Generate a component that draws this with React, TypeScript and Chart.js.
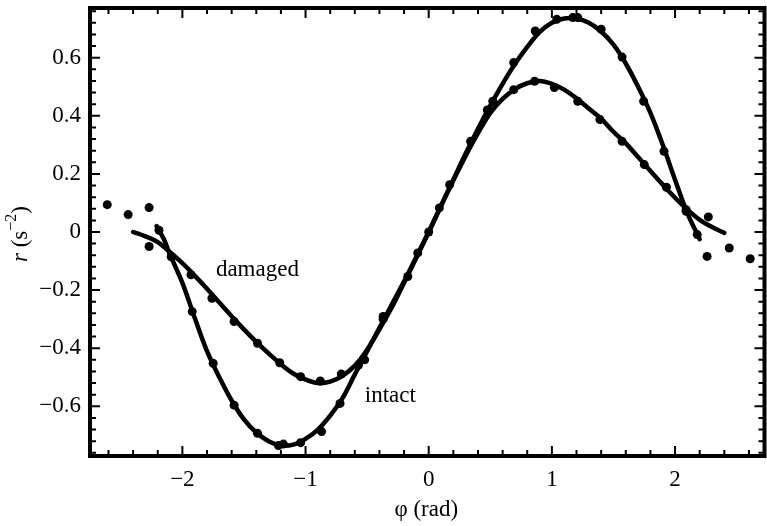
import React, { useEffect, useRef } from "react";
import { Chart, registerables } from "chart.js";
Chart.register(...registerables);

// ---- axis ranges & ticks ----
const X_MIN = -2.75;
const X_MAX = 2.71;
const Y_MIN = -0.771;
const Y_MAX = 0.771;
const xTickValues = [-2, -1, 0, 1, 2];
const yTickValues = [-0.6, -0.4, -0.2, 0, 0.2, 0.4, 0.6];
const X_MINOR_STEP = 0.2;
const Y_MINOR_STEP = 0.04;

// ---- fitted curves ----
const intactCurveX = [-2.21, -2.15, -2.1, -2.0, -1.9, -1.8, -1.7, -1.6, -1.5, -1.4, -1.3, -1.2, -1.1, -1.0, -0.9, -0.8, -0.7, -0.6, -0.5, -0.4, -0.3, -0.2, -0.1, 0, 0.1, 0.2, 0.3, 0.4, 0.5, 0.6, 0.7, 0.8, 0.9, 1.0, 1.1, 1.2, 1.3, 1.4, 1.5, 1.6, 1.7, 1.8, 1.9, 2.0, 2.1, 2.2];
const intactCurveY = [0.02, -0.025, -0.078, -0.175, -0.295, -0.41, -0.5, -0.58, -0.645, -0.69, -0.72, -0.735, -0.732, -0.712, -0.68, -0.632, -0.572, -0.49, -0.41, -0.33, -0.25, -0.17, -0.085, 0.0, 0.09, 0.18, 0.27, 0.355, 0.435, 0.51, 0.578, 0.637, 0.688, 0.72, 0.735, 0.735, 0.72, 0.69, 0.645, 0.58, 0.5, 0.41, 0.3, 0.18, 0.065, -0.025];

const damagedCurveX = [-2.4, -2.3, -2.2, -2.1, -2.0, -1.9, -1.8, -1.7, -1.6, -1.5, -1.4, -1.3, -1.2, -1.1, -1.0, -0.9, -0.8, -0.7, -0.6, -0.5, -0.4, -0.3, -0.2, -0.1, 0, 0.1, 0.2, 0.3, 0.4, 0.5, 0.6, 0.7, 0.8, 0.9, 1.0, 1.1, 1.2, 1.3, 1.4, 1.5, 1.6, 1.7, 1.8, 1.9, 2.0, 2.1, 2.2, 2.3, 2.4];
const damagedCurveY = [0.0, -0.015, -0.035, -0.07, -0.107, -0.15, -0.195, -0.243, -0.29, -0.335, -0.378, -0.418, -0.455, -0.487, -0.508, -0.52, -0.515, -0.495, -0.46, -0.405, -0.335, -0.26, -0.175, -0.088, 0.0, 0.09, 0.178, 0.262, 0.34, 0.41, 0.458, 0.492, 0.512, 0.52, 0.51, 0.49, 0.46, 0.425, 0.39, 0.345, 0.305, 0.258, 0.21, 0.163, 0.118, 0.077, 0.042, 0.017, -0.003];

// ---- measured points ----
const intactDataX = [-2.61, -2.44, -2.27, -2.19, -2.09, -1.92, -1.75, -1.58, -1.39, -1.22, -1.18, -1.04, -0.87, -0.72, -0.57, -0.37, -0.17, 0.0, 0.17, 0.34, 0.52, 0.69, 0.865, 1.04, 1.17, 1.21, 1.4, 1.57, 1.745, 1.91, 2.09, 2.18, 2.26, 2.44, 2.61];
const intactDataY = [0.094, 0.06, 0.084, 0.006, -0.084, -0.274, -0.452, -0.596, -0.693, -0.735, -0.73, -0.725, -0.687, -0.59, -0.458, -0.3, -0.153, 0.0, 0.163, 0.312, 0.45, 0.583, 0.692, 0.732, 0.738, 0.738, 0.698, 0.602, 0.45, 0.278, 0.077, -0.009, -0.084, -0.055, -0.092];

const damagedDataX = [-2.27, -2.09, -1.93, -1.76, -1.58, -1.39, -1.21, -1.04, -0.88, -0.71, -0.52, -0.37, -0.089, 0.086, 0.476, 0.69, 0.86, 1.02, 1.21, 1.39, 1.57, 1.75, 1.93, 2.09, 2.27];
const damagedDataY = [-0.05, -0.085, -0.147, -0.228, -0.308, -0.383, -0.45, -0.498, -0.513, -0.489, -0.44, -0.291, -0.072, 0.083, 0.42, 0.49, 0.519, 0.497, 0.45, 0.387, 0.312, 0.232, 0.154, 0.071, 0.052];

// ---- labels ----
const annotations = [
  { text: "damaged", x: -1.728, y: -0.153 },
  { text: "intact", x: -0.519, y: -0.584 },
];
const X_TITLE = "φ (rad)";

const FONT = "'Liberation Serif', 'Times New Roman', serif";
Chart.defaults.font.family = FONT;

const zip = (xs: number[], ys: number[]) => xs.map((x, i) => ({ x, y: ys[i] }));
const minus = (s: string) => s.replace("-", "\u2212");

const framePlugin = {
  id: "frame",
  afterDatasetsDraw(chart: any) {
    const ctx = chart.ctx;
    const x = chart.scales.x;
    const y = chart.scales.y;
    ctx.save();
    ctx.fillStyle = "#000";
    ctx.textBaseline = "alphabetic";
    ctx.textAlign = "left";
    ctx.font = `23px ${FONT}`;
    for (const a of annotations) {
      ctx.fillText(a.text, x.getPixelForValue(a.x), y.getPixelForValue(a.y));
    }
    ctx.restore();
  },
  afterDraw(chart: any) {
    const ctx = chart.ctx;
    const { left, right, top, bottom } = chart.chartArea;
    const xs = chart.scales.x;
    const ys = chart.scales.y;
    const R = right + 2;
    ctx.save();
    ctx.strokeStyle = "#000";
    ctx.lineWidth = 4;
    ctx.beginPath();
    ctx.moveTo(left, top);
    ctx.lineTo(R, top);
    ctx.lineTo(R, bottom);
    ctx.lineTo(left, bottom);
    ctx.closePath();
    ctx.stroke();

    ctx.lineWidth = 2;
    const MAJ = 8;
    const MIN = 4;
    ctx.beginPath();
    for (let v = Math.ceil(X_MIN / X_MINOR_STEP) * X_MINOR_STEP; v <= X_MAX + 1e-9; v += X_MINOR_STEP) {
      const r = Math.round(v * 10) / 10;
      const major = xTickValues.some((t) => Math.abs(t - r) < 1e-6);
      const len = major ? MAJ : MIN;
      const px = xs.getPixelForValue(r);
      ctx.moveTo(px, bottom);
      ctx.lineTo(px, bottom - len - 2);
      ctx.moveTo(px, top);
      ctx.lineTo(px, top + len + 2);
    }
    for (let v = Math.ceil(Y_MIN / Y_MINOR_STEP) * Y_MINOR_STEP; v <= Y_MAX + 1e-9; v += Y_MINOR_STEP) {
      const r = Math.round(v * 100) / 100;
      const major = yTickValues.some((t) => Math.abs(t - r) < 1e-6);
      const len = major ? MAJ : MIN;
      const py = ys.getPixelForValue(r);
      ctx.moveTo(left, py);
      ctx.lineTo(left + len + 2, py);
      ctx.moveTo(R, py);
      ctx.lineTo(R - len - 2, py);
    }
    ctx.stroke();

    // y-axis title: r (s^-2), rotated
    const cx = 21;
    const cy = ys.getPixelForValue(0) + 2;
    ctx.translate(cx, cy);
    ctx.rotate(-Math.PI / 2);
    ctx.fillStyle = "#000";
    ctx.textBaseline = "middle";
    ctx.textAlign = "left";
    const fItalic = `italic 23px ${FONT}`;
    const fNorm = `23px ${FONT}`;
    const fSup = `16px ${FONT}`;
    const parts = [
      { t: "r", f: fItalic, dy: 0 },
      { t: " (s", f: fNorm, dy: 0 },
      { t: "\u22122", f: fSup, dy: -9 },
      { t: ")", f: fNorm, dy: 0 },
    ];
    let total = 0;
    for (const p of parts) {
      ctx.font = p.f;
      total += ctx.measureText(p.t).width;
    }
    let px = -total / 2;
    for (const p of parts) {
      ctx.font = p.f;
      ctx.fillText(p.t, px, p.dy);
      px += ctx.measureText(p.t).width;
    }
    ctx.restore();
  },
};

export default function App() {
  const ref = useRef<HTMLCanvasElement | null>(null);
  useEffect(() => {
    if (!ref.current) return;
    const chart = new Chart(ref.current, {
      type: "scatter",
      data: {
        datasets: [
          {
            label: "intact fit",
            data: zip(intactCurveX, intactCurveY),
            showLine: true,
            borderColor: "#000",
            borderWidth: 4.5,
            borderCapStyle: "round",
            pointRadius: 0,
            tension: 0.35,
          },
          {
            label: "damaged fit",
            data: zip(damagedCurveX, damagedCurveY),
            showLine: true,
            borderColor: "#000",
            borderWidth: 4.5,
            borderCapStyle: "round",
            pointRadius: 0,
            tension: 0.35,
          },
          {
            label: "intact data",
            data: zip(intactDataX, intactDataY),
            pointRadius: 4.5,
            pointBackgroundColor: "#000",
            pointBorderWidth: 0,
          },
          {
            label: "damaged data",
            data: zip(damagedDataX, damagedDataY),
            pointRadius: 4.5,
            pointBackgroundColor: "#000",
            pointBorderWidth: 0,
          },
        ],
      } as any,
      options: {
        animation: false,
        responsive: false,
        events: [],
        layout: { padding: { top: 8, right: 0, left: 0, bottom: 0 } },
        plugins: { legend: { display: false }, tooltip: { enabled: false } },
        scales: {
          x: {
            type: "linear",
            min: X_MIN,
            max: X_MAX,
            grid: { display: false, drawTicks: false },
            border: { display: false },
            afterFit: (s: any) => {
              s.height = 70;
              s.paddingLeft = 0;
              s.paddingRight = 0;
            },
            afterBuildTicks: (s: any) => {
              s.ticks = xTickValues.map((value) => ({ value }));
            },
            ticks: {
              color: "#000",
              font: { family: FONT, size: 23 },
              padding: 10,
              maxRotation: 0,
              callback: (v: any) => minus(String(v)),
            },
            title: {
              display: true,
              text: X_TITLE,
              color: "#000",
              font: { family: FONT, size: 23 },
              padding: { top: 0, bottom: 2 },
            },
          },
          y: {
            type: "linear",
            min: Y_MIN,
            max: Y_MAX,
            grid: { display: false, drawTicks: false },
            border: { display: false },
            afterFit: (s: any) => {
              s.width = 90;
              s.paddingTop = 0;
              s.paddingBottom = 0;
            },
            afterBuildTicks: (s: any) => {
              s.ticks = yTickValues.map((value) => ({ value }));
            },
            ticks: {
              color: "#000",
              font: { family: FONT, size: 23 },
              padding: 9,
              callback: (v: any) => (Math.abs(v) < 1e-9 ? "0" : minus(Number(v).toFixed(1))),
            },
          },
        },
      },
      plugins: [framePlugin],
    } as any);
    return () => chart.destroy();
  }, []);
  return (
    <div style={{ position: "absolute", left: 0, top: 0, width: 767, height: 526, background: "#fff" }}>
      <canvas ref={ref} width={767} height={526} style={{ display: "block" }} />
    </div>
  );
}
